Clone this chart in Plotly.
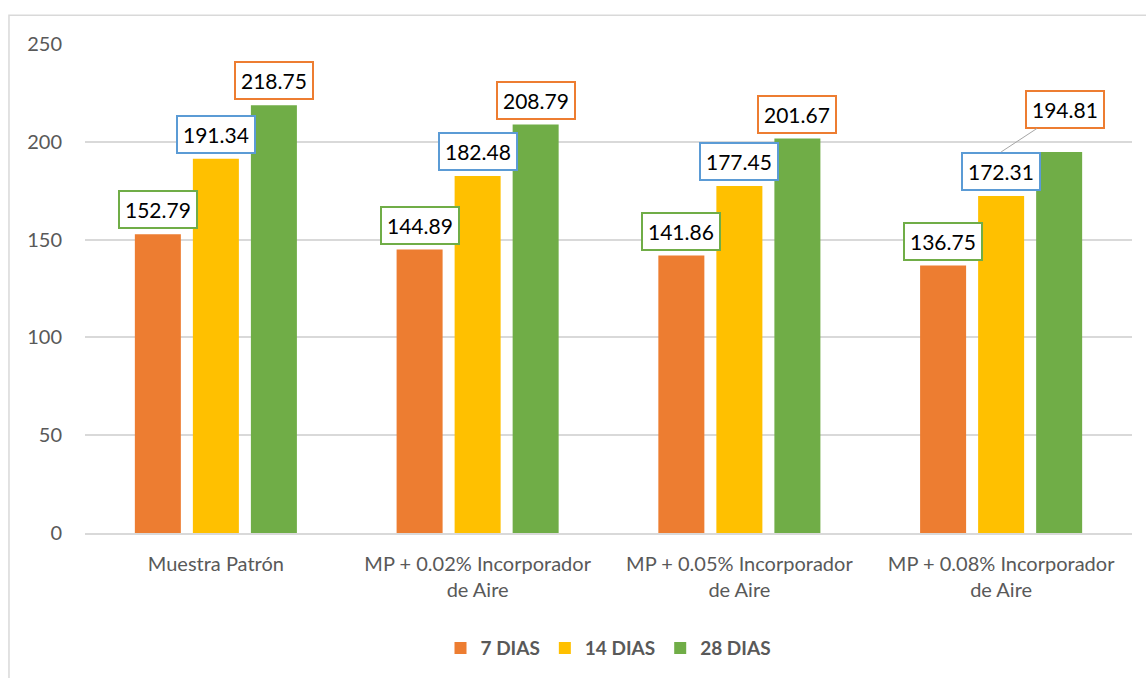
import plotly.graph_objects as go

# Compressive strength by mix design and curing age
categorias = [
    "Muestra Patrón",
    "MP + 0.02% Incorporador<br>de Aire",
    "MP + 0.05% Incorporador<br>de Aire",
    "MP + 0.08% Incorporador<br>de Aire",
]
dias_7 = [152.79, 144.89, 141.86, 136.75]
dias_14 = [191.34, 182.48, 177.45, 172.31]
dias_28 = [218.75, 208.79, 201.67, 194.81]

series = [
    ("7 DIAS", dias_7, "#ED7D31", "#70AD47", -58),
    ("14 DIAS", dias_14, "#FFC000", "#5B9BD5", 0),
    ("28 DIAS", dias_28, "#70AD47", "#ED7D31", 58),
]

FONT = "Lato, Calibri, 'Open Sans', sans-serif"

fig = go.Figure()
for name, vals, color, _, _ in series:
    fig.add_trace(go.Bar(
        x=categorias, y=vals, name=name,
        marker=dict(color=color, line=dict(width=0)),
    ))

annotations = []
for name, vals, _, border, shift in series:
    for cat, v in zip(categorias, vals):
        base = dict(
            x=cat, y=v, xref="x", yref="y",
            text=f"{v:.2f}",
            font=dict(family=FONT, size=21, color="#000000"),
            bgcolor="#FFFFFF", bordercolor=border, borderwidth=2, borderpad=5,
        )
        if name == "28 DIAS" and cat == categorias[3]:
            # Label lifted clear of the neighbouring box, with a leader line
            base.update(showarrow=True, arrowhead=0, arrowwidth=1,
                        arrowcolor="#A6A6A6", ax=shift + 6, ay=-42,
                        standoff=0, startstandoff=0)
        else:
            base.update(showarrow=False, xshift=shift, yanchor="bottom", yshift=5)
        annotations.append(base)

fig.update_layout(
    width=1146, height=678,
    margin=dict(l=85, r=14, t=44, b=144),
    paper_bgcolor="#FFFFFF", plot_bgcolor="#FFFFFF",
    barmode="group", bargap=0.335, bargroupgap=0.207,
    font=dict(family=FONT, color="#595959"),
    showlegend=True,
    legend=dict(
        orientation="h", x=0.5, xanchor="center", y=-0.233, yanchor="middle",
        font=dict(family=FONT, size=19, color="#595959", weight="bold"),
        itemwidth=30, traceorder="normal",
    ),
    annotations=annotations,
    shapes=[dict(
        type="rect", xref="paper", yref="paper",
        x0=-0.0726, x1=1.05, y0=-0.36, y1=1.059,
        line=dict(color="#D9D9D9", width=1.5), fillcolor="rgba(0,0,0,0)",
        layer="below",
    )],
)

fig.update_xaxes(
    showgrid=False, showline=True, linecolor="#D9D9D9", linewidth=2,
    ticks="", tickfont=dict(family=FONT, size=20, color="#595959"),
    ticklabelstandoff=12,
)
fig.update_yaxes(
    range=[0, 250], dtick=50, showgrid=True, gridcolor="#D9D9D9", gridwidth=1.5,
    zeroline=False, showline=False, ticks="",
    tickfont=dict(family=FONT, size=20, color="#595959"),
    ticklabelstandoff=22,
)

fig.write_html("out.html")
